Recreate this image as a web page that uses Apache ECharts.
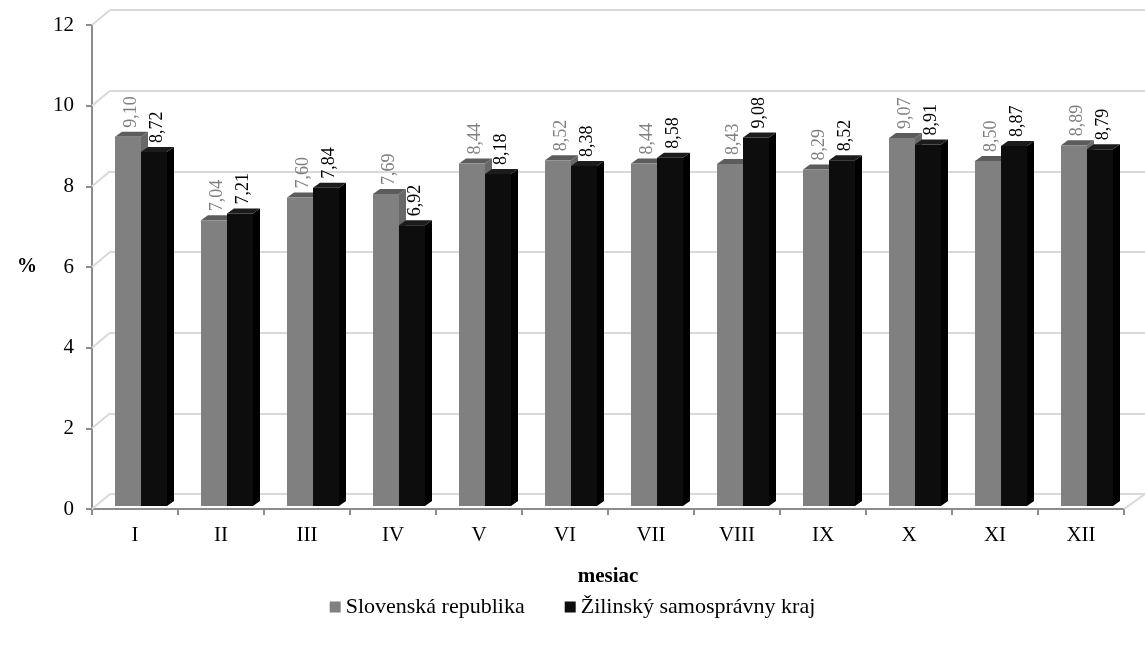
<!DOCTYPE html>
<html>
<head>
<meta charset="utf-8">
<script src="https://cdn.jsdelivr.net/npm/echarts@6/dist/echarts.min.js"></script>
<style>
html,body{margin:0;padding:0;background:#fff;}
#chart{width:1145px;height:649px;}
</style>
</head>
<body>
<div id="chart"></div>
<script>
var months = ['I','II','III','IV','V','VI','VII','VIII','IX','X','XI','XII'];
var seriesNames = ['Slovenská republika','Žilinský samosprávny kraj'];
var slovakia = [9.10, 7.04, 7.60, 7.69, 8.44, 8.52, 8.44, 8.43, 8.29, 9.07, 8.50, 8.89];
var zilina = [8.72, 7.21, 7.84, 6.92, 8.18, 8.38, 8.58, 9.08, 8.52, 8.91, 8.87, 8.79];
var yTicks = [0, 2, 4, 6, 8, 10, 12];

var FONT = 'Liberation Serif';
var chart = echarts.init(document.getElementById('chart'));

function fmt(v){ return v.toFixed(2).replace('.', ','); }

function barRenderer(idx, front, topC, side, labelColor){
  return function(params, api){
    var ci = api.value(0), v = api.value(1);
    var base = api.coord([ci, 0]);
    var top = api.coord([ci, v]);
    var c = base[0];
    var w = 26, dx = 7, dy = -5;
    var x0 = c + (idx === 0 ? -20 : 6);
    var x1 = x0 + w;
    var yb = base[1], yt = top[1];
    return {
      type: 'group',
      children: [
        {type:'polygon', shape:{points:[[x1,yb],[x1+dx,yb+dy],[x1+dx,yt+dy],[x1,yt]]}, style:{fill:side}},
        {type:'polygon', shape:{points:[[x0,yt],[x0+dx,yt+dy],[x1+dx,yt+dy],[x1,yt]]}, style:{fill:topC}},
        {type:'rect', shape:{x:x0, y:yt, width:w, height:yb-yt}, style:{fill:front}},
        {type:'text', x: x0 + w/2 + 3, y: yt + dy - 4, rotation: Math.PI/2,
          style:{text: fmt(v), fill: labelColor, font: '18px "' + FONT + '"', align:'left', verticalAlign:'middle'}}
      ]
    };
  };
}

function frameRenderer(params, api){
  var cs = params.coordSys;
  var v = api.value(1);
  var y = api.coord([0, v])[1];
  var children = [
    {type:'line', shape:{x1:cs.x, y1:y, x2:cs.x+18, y2:y-15}, style:{stroke:'#d9d9d9', lineWidth:2}}
  ];
  if (v === 0) {
    children.push({type:'line', shape:{x1:cs.x+cs.width, y1:y, x2:cs.x+cs.width+21, y2:y-15}, style:{stroke:'#d9d9d9', lineWidth:2}});
  }
  return {type:'group', children: children};
}

var slovData = slovakia.map(function(v,i){ return [i, v]; });
var zilData = zilina.map(function(v,i){ return [i, v]; });
var frameData = yTicks.map(function(v){ return [0, v]; });

chart.setOption({
  animation: false,
  backgroundColor: '#fff',
  textStyle: {fontFamily: FONT},
  legend: {
    data: [
      {name: seriesNames[0], icon: 'rect', itemStyle:{color:'#808080'}},
      {name: seriesNames[1], icon: 'rect', itemStyle:{color:'#0d0d0d'}}
    ],
    bottom: 26,
    left: 'center',
    itemWidth: 11,
    itemHeight: 11,
    itemGap: 40,
    textStyle: {fontFamily: FONT, fontSize: 22, color: '#000'}
  },
  grid: [
    {left: 110, right: 0, top: 10, bottom: 155},
    {left: 92, right: 21, top: 25, bottom: 140},
    {left: 92, right: 21, top: 19, bottom: 143}
  ],
  xAxis: [
    {gridIndex: 0, type: 'category', data: months, show: false},
    {gridIndex: 1, type: 'category', data: months,
      axisLine: {lineStyle: {color: '#8c8c8c', width: 2}},
      axisTick: {show: true, length: 6, lineStyle: {color: '#8c8c8c', width: 2}},
      axisLabel: {fontFamily: FONT, fontSize: 21, color: '#000', margin: 16},
      name: 'mesiac', nameLocation: 'middle', nameGap: 57,
      nameTextStyle: {fontFamily: FONT, fontSize: 21, fontWeight: 'bold', color: '#000'}
    },
    {gridIndex: 2, type: 'category', data: months, show: false}
  ],
  yAxis: [
    {gridIndex: 0, type: 'value', min: 0, max: 12, interval: 2,
      axisLine:{show:false}, axisTick:{show:false}, axisLabel:{show:false},
      splitLine: {show: true, lineStyle: {color: '#d9d9d9', width: 2}}
    },
    {gridIndex: 1, type: 'value', min: 0, max: 12, interval: 2,
      axisLine: {show: true, lineStyle: {color: '#8c8c8c', width: 2}},
      axisTick: {show: true, length: 6, lineStyle: {color: '#8c8c8c', width: 2}},
      axisLabel: {fontFamily: FONT, fontSize: 21, color: '#000', margin: 18},
      splitLine: {show: false},
      name: '%', nameLocation: 'middle', nameGap: 55, nameRotate: 0,
      nameTextStyle: {fontFamily: FONT, fontSize: 20, fontWeight: 'bold', color: '#000'}
    },
    {gridIndex: 2, type: 'value', min: 0, max: 12, interval: 2, show: false, splitLine:{show:false}}
  ],
  series: [
    {type: 'custom', name: 'frame', xAxisIndex: 1, yAxisIndex: 1, data: frameData,
      renderItem: frameRenderer, silent: true, z: 1},
    {type: 'custom', name: seriesNames[0], xAxisIndex: 2, yAxisIndex: 2, data: slovData,
      itemStyle: {color: '#808080'},
      renderItem: barRenderer(0, '#808080', '#5c5c5c', '#686868', '#7f7f7f'), z: 3},
    {type: 'custom', name: seriesNames[1], xAxisIndex: 2, yAxisIndex: 2, data: zilData,
      itemStyle: {color: '#0d0d0d'},
      renderItem: barRenderer(1, '#0d0d0d', '#1c1c1c', '#000000', '#000000'), z: 4}
  ]
});
</script>
</body>
</html>
